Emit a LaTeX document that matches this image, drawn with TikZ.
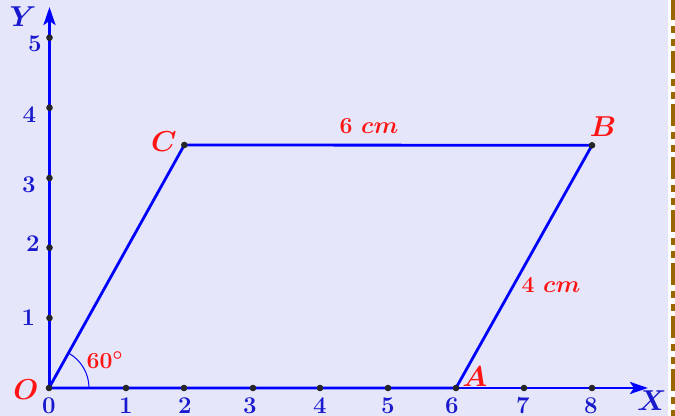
\documentclass[tikz,border=0pt]{standalone}
\usetikzlibrary{arrows.meta}
\definecolor{bgc}{RGB}{230,230,250}
\definecolor{brn}{RGB}{153,102,0}
\definecolor{lblue}{RGB}{25,25,205}
\definecolor{lred}{RGB}{255,20,20}
\begin{document}
\begin{tikzpicture}[x=0.5pt,y=0.5pt,
  ax/.style={blue,line width=1.4pt},
  side/.style={blue,line width=1.4pt,line join=round},
  tip/.style={-{Stealth[length=9pt,width=6pt,inset=2pt]}},
  dotc/.style={circle,fill=black!85,inner sep=0pt,minimum size=3.3pt},
  numlab/.style={text=lblue,font=\fontsize{12}{14}\selectfont\bfseries,inner sep=0pt},
  axlab/.style={text=lblue,font=\fontsize{14}{16}\selectfont\boldmath,inner sep=0pt},
  ptlab/.style={text=lred,font=\fontsize{14}{16}\selectfont\boldmath,inner sep=0pt},
  seglab/.style={text=lred,font=\fontsize{11.5}{13}\selectfont\bfseries\boldmath,inner sep=0pt}]
\useasboundingbox (0,0) rectangle (675,416);
\fill[white] (0,0) rectangle (675,416);
\fill[bgc] (0,0) rectangle (668,416);
% border dashes
\coordinate (bt) at (673,416);
\coordinate (bb) at (673,0);
\draw[brn,line width=2.2pt,dash pattern=on 11pt off 3pt on 3.5pt off 3pt on 3.5pt off 2.5pt,dash phase=1pt] (bt) -- (bb);
% points
\coordinate (O) at (49,28);
\coordinate (A) at (456,28);
\coordinate (B) at (592,270.7);
\coordinate (C) at (184.3,271);
\coordinate (Xend) at (648,28);
\coordinate (Yst) at (49.5,28);
\coordinate (Yend) at (49.5,409);
% axes
\draw[ax,tip] (O) -- (Xend);
\draw[ax,tip] (Yst) -- (Yend);
% angle arc
\draw[blue,line width=0.5pt] (89,28) arc[start angle=0,end angle=61,radius=40];
% parallelogram
\draw[side] (O) -- (A) -- (B) -- (C) -- cycle;
% tick dots on x axis
\foreach \x [count=\i] in {126,184,253,320,388,524,592}{
  \node[dotc] (xd\i) at (\x,28) {};
}
% tick dots on y axis
\foreach \y [count=\i] in {98,168.3,238,308.3,378.3}{
  \node[dotc] (yd\i) at (49.5,\y) {};
}
% vertex dots
\node[dotc] (Od) at (O) {};
\node[dotc] (Ad) at (A) {};
\node[dotc] (Bd) at (B) {};
\node[dotc] (Cd) at (C) {};
% x tick labels
\foreach \x/\t in {49/0,126/1,185/2,250/3,320/4,388/5,452/6,523/7,591/8}{
  \node[numlab,anchor=north] (xl\t) at (\x,19) {\t};
}
% y tick labels
\node[numlab] (yl1) at (28.5,98.5) {1};
\node[numlab] (yl2) at (33,172.5) {2};
\node[numlab] (yl3) at (29,231) {3};
\node[numlab] (yl4) at (29.5,301.5) {4};
\node[numlab] (yl5) at (35,372.5) {5};
% axis labels
\node[axlab] (Xl) at (652,15) {$X$};
\node[axlab] (Yl) at (23,399) {$Y$};
% vertex labels
\node[ptlab] (Ol) at (26,26) {$O$};
\node[ptlab] (Al) at (475,39) {$A$};
\node[ptlab] (Bl) at (603,289) {$B$};
\node[ptlab] (Cl) at (164,274) {$C$};
% side labels
\node[seglab] (s1) at (369,290) {6 $cm$};
\node[seglab] (s2) at (551,131) {4 $cm$};
\node[seglab] (ang) at (105,56) {60$^\circ$};
\end{tikzpicture}
\end{document}
